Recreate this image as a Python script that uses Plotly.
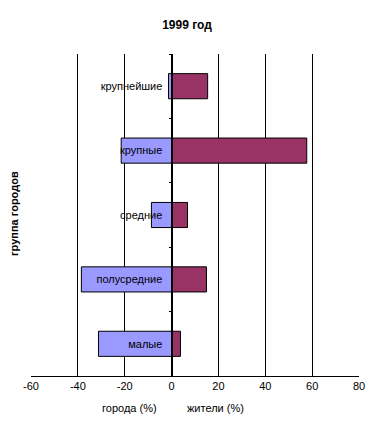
import plotly.graph_objects as go

categories = ["крупнейшие", "крупные", "средние", "полусредние", "малые"]
cities_pct = [-1.3, -21.5, -8.6, -38.5, -31.2]      # города (%)
residents_pct = [15.4, 57.7, 6.8, 14.9, 3.8]        # жители (%)
x_ticks = [-60, -40, -20, 0, 20, 40, 60, 80]
x_tick_labels = ["-60", "-40", "-20", "0", "20", "40", "60", "80"]
title = "1999 год"
x_label_left = "города (%)"
x_label_right = "жители (%)"
y_label = "группа городов"

FONT = "Liberation Sans, Arial, sans-serif"
xmin, xmax = -60, 80

# page body has an 8px margin; size the figure so it fits the 374x422 window
OFF = 8
W, H = 374 - OFF, 422 - OFF
L, R = 31 - OFF, 15
T = 54 - OFF
B = H - (376 - OFF)
ph = H - T - B
pw = W - L - R


def py(y_px):
    return (H - B - (y_px - OFF)) / ph


fig = go.Figure()
fig.add_trace(go.Bar(
    y=categories, x=cities_pct, orientation="h",
    marker=dict(color="#9999FF", line=dict(color="black", width=1)),
    hoverinfo="x+y",
))
fig.add_trace(go.Bar(
    y=categories, x=residents_pct, orientation="h",
    marker=dict(color="#993366", line=dict(color="black", width=1)),
    hoverinfo="x+y",
))

annotations = [
    dict(text=x_label_left, x=-18, xref="x", y=py(408), yref="paper", yanchor="middle",
         showarrow=False, font=dict(family=FONT, size=11, color="black")),
    dict(text=x_label_right, x=18.6, xref="x", y=py(408), yref="paper", yanchor="middle",
         showarrow=False, font=dict(family=FONT, size=11, color="black")),
    dict(text="<b>" + y_label + "</b>", textangle=-90, xref="paper",
         x=(14 - 31) / pw, xanchor="center",
         yref="paper", y=py(214), showarrow=False,
         font=dict(family=FONT, size=11, color="black")),
]

fig.update_layout(
    width=W, height=H,
    margin=dict(l=L, r=R, t=T, b=B, pad=0, autoexpand=False),
    paper_bgcolor="white", plot_bgcolor="white",
    barmode="relative", bargap=0.61,
    showlegend=False,
    title=dict(text="<b>" + title + "</b>", x=(187 - OFF) / W, xref="container", xanchor="center",
               y=1 - (25 - OFF) / H, yref="container", yanchor="middle",
               font=dict(family=FONT, size=12, color="black")),
    xaxis=dict(
        range=[xmin, xmax], tickvals=x_ticks, ticktext=x_tick_labels,
        showgrid=True, gridcolor="black", gridwidth=1,
        zeroline=True, zerolinecolor="black", zerolinewidth=1,
        showline=True, linecolor="black", linewidth=1,
        ticks="inside", ticklen=5, tickcolor="black",
        tickfont=dict(family=FONT, size=11, color="black"),
        automargin=False, fixedrange=True,
    ),
    yaxis=dict(
        type="category", categoryorder="array", categoryarray=categories[::-1],
        anchor="free", position=(0 - xmin) / (xmax - xmin),
        showline=True, linecolor="black", linewidth=1,
        tickson="boundaries", ticks="outside", ticklen=3, tickcolor="black",
        showgrid=False, zeroline=False,
        tickfont=dict(family=FONT, size=11, color="black"),
        ticklabelstandoff=7,
        automargin=False, fixedrange=True,
    ),
    annotations=annotations,
)

fig.write_html("out.html")
